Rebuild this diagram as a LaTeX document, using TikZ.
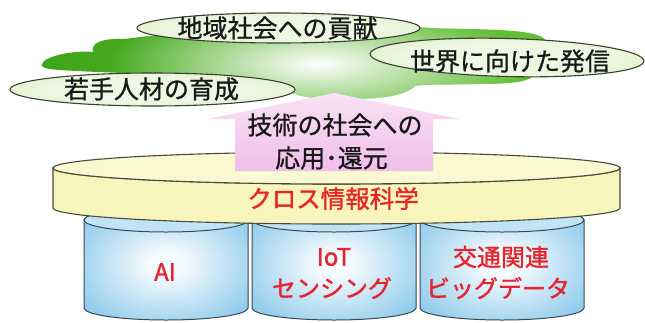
\documentclass[tikz,border=0pt]{standalone}
\usepackage{fontspec}
\newfontfamily\jp[FakeBold=0.9,AutoFakeBold=0.9]{Noto Sans CJK JP}
\newfontfamily\jpr[FakeBold=1.3]{Noto Sans CJK JP}
\usetikzlibrary{fadings}
\definecolor{cloudL}{HTML}{3FA518}
\definecolor{cloudM}{HTML}{B8E296}
\definecolor{cloudR}{HTML}{66C036}
\definecolor{elin}{HTML}{EEF7E2}
\definecolor{elout}{HTML}{C6E5A2}
\definecolor{elline}{HTML}{3A3F36}
\definecolor{diskTop}{HTML}{FAF9CF}
\definecolor{diskSide}{HTML}{F7F5BC}
\definecolor{diskLine}{HTML}{4A4A3C}
\definecolor{pinkA}{HTML}{F9E2F6}
\definecolor{pinkB}{HTML}{F0BEEA}
\definecolor{cylin}{HTML}{F6FBFE}
\definecolor{cylout}{HTML}{84C6EA}
\definecolor{cyltop}{HTML}{C0E4F6}
\definecolor{cylLine}{HTML}{3A4854}
\definecolor{redtxt}{HTML}{E8232B}
\pgfdeclareradialshading{cylglow}{\pgfpoint{0bp}{0bp}}{color(0bp)=(cylin); color(5bp)=(cylin); color(34bp)=(cylout); color(70bp)=(cylout)}
\pgfdeclareradialshading{elglow}{\pgfpoint{0bp}{0bp}}{color(0bp)=(elin); color(18bp)=(elin); color(50bp)=(elout); color(70bp)=(elout)}
\tikzfading[name=glowfade, inner color=transparent!0, outer color=transparent!100]
\tikzset{
  oval/.style={shading=elglow, draw=elline, line width=1.1pt},
  toptext/.style={font=\jp\fontsize{25}{27}\selectfont, text=black!90, inner sep=0pt},
  redtext/.style={font=\jpr\fontsize{24}{26}\selectfont, text=redtxt, inner sep=0pt},
  cylbody/.style={shading=cylglow, draw=cylLine, line width=1pt},
  cyltopf/.style={fill=cyltop, draw=cylLine, line width=1pt},
}
\def\cloudpath{(42,64) .. controls (44,56) and (75,50) .. (93,52)
  .. controls (90,42) and (105,38) .. (125,39)
  .. controls (200,28) and (380,22) .. (420,27)
  .. controls (440,30) and (520,27) .. (540,36)
  .. controls (548,40) and (548,45) .. (545,50)
  -- (535,72) .. controls (535,82) and (510,84) .. (480,84)
  .. controls (450,85) and (425,84) .. (415,86)
  .. controls (405,96) and (380,99) .. (350,99)
  .. controls (320,100) and (300,97) .. (290,92)
  -- (250,80) .. controls (200,74) and (120,74) .. (60,70)
  .. controls (45,69) and (40,67) .. (42,64) -- cycle}
\begin{document}
\begin{tikzpicture}[x=1pt,y=-1pt]
\fill[white] (0,0) rectangle (645,322);
\useasboundingbox (0,0) rectangle (645,322);
% cloud
\shade[left color=cloudL, middle color=cloudM, right color=cloudR] \cloudpath;
\begin{scope}
  \clip \cloudpath;
  \fill[white, path fading=glowfade] (318,64) ellipse [x radius=210, y radius=62];
\end{scope}
% ovals
\path[oval] (278.5,28) ellipse [x radius=141.5, y radius=15];
\path[oval] (152.5,89.5) ellipse [x radius=142.5, y radius=16.5];
\path[oval, rotate around={-1.5:(507,57.5)}] (507,57.5) ellipse [x radius=137, y radius=19];
\node[toptext] (t1) at (277.5,28) {地域社会への貢献};
\node[toptext] (t2) at (151.5,89) {若手人材の育成};
\node[toptext] (t3) at (510,61) {世界に向けた発信};
% cylinders
\foreach \cx in {166,334,502}{
  \path[cylbody] (\cx-82,220) -- (\cx-82,308) arc[start angle=180, end angle=0, x radius=82, y radius=12]
     -- (\cx+82,220) arc[start angle=0, end angle=-180, x radius=82, y radius=12] -- cycle;
  \path[cyltopf] (\cx,220) ellipse [x radius=82, y radius=12];
}
% disk
\path[fill=diskSide, draw=diskLine, line width=1.1pt] (53,168) -- (53,208)
   arc[start angle=180, end angle=0, x radius=283.5, y radius=16] -- (620,168)
   arc[start angle=0, end angle=180, x radius=283.5, y radius=16] -- cycle;
\path[fill=diskTop, draw=diskLine, line width=1.1pt] (336.5,168) ellipse [x radius=283.5, y radius=16];
% arrow
\shade[top color=pinkA, bottom color=pinkB] (334,93) -- (460,119) -- (433,119) -- (433,171)
   -- (235,171) -- (235,119) -- (208,119) -- cycle;
\node[toptext] (a1) at (335,125) {技術の社会への};
\node[toptext] (a2) at (331.5,158) {応用･還元};
\node[redtext, font=\jpr\fontsize{24.5}{26}\selectfont] (cross) at (333,198.5) {クロス情報科学};
% cylinder labels
\node[redtext] (ai) at (165,272) {AI};
\node[redtext] (iot) at (334,257) {IoT};
\node[redtext] (sens) at (332,288) {センシング};
\node[redtext] (traf) at (501,257) {交通関連};
\node[redtext] (big) at (498,288) {ビッグデータ};
\end{tikzpicture}
\end{document}
